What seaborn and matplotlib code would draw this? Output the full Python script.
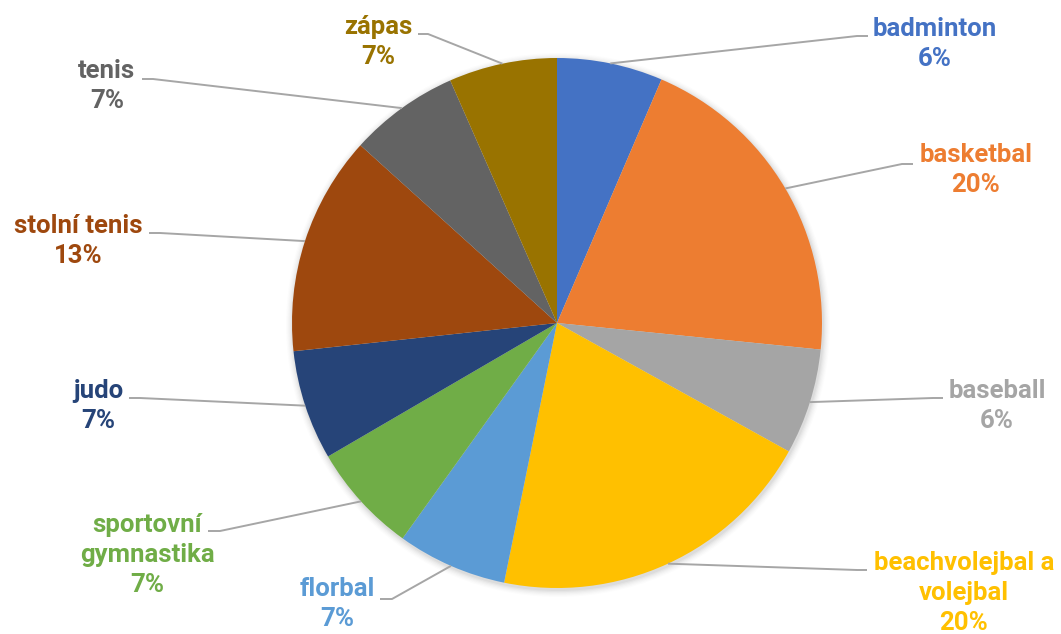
import matplotlib
matplotlib.use("Agg")
import math
import matplotlib.pyplot as plt
import matplotlib.patches as mpatches
import seaborn as sns

# ---- data ----
categories = ["badminton", "basketbal", "baseball", "beachvolejbal a volejbal",
              "florbal", "sportovní gymnastika", "judo", "stolní tenis", "tenis", "zápas"]
label_text = ["badminton", "basketbal", "baseball", "beachvolejbal a\nvolejbal",
              "florbal", "sportovní\ngymnastika", "judo", "stolní tenis", "tenis", "zápas"]
values = [6.45, 20.15, 6.45, 20.15, 6.7, 6.7, 6.7, 13.4, 6.7, 6.6]
colors = ["#4472C4", "#ED7D31", "#A5A5A5", "#FFC000", "#5B9BD5",
          "#70AD47", "#264478", "#9E480E", "#636363", "#997300"]

# ---- layout (pixel coordinates, y from top) ----
W, H = 1061, 634
CX, CY, R = 557, 323, 265
text_pos = [(935, 44), (976, 170), (997, 406), (964, 593), (337, 604),
            (147, 555), (98, 406), (78, 241), (107, 86), (378, 42)]
leader_elbow = [(857, 36), (902, 164), (933, 398), (857, 570), (392, 599),
                (220, 531), (140, 398), (160, 233), (153, 79), (428, 34)]
leader_end = [(868, 36), (913, 164), (943, 398), (867, 570), (380, 599),
              (208, 531), (129, 398), (149, 233), (142, 79), (418, 34)]

sns.set_theme(style="white")
plt.rcParams["font.family"] = ["Roboto", "DejaVu Sans"]
palette = sns.color_palette(colors)

fig = plt.figure(figsize=(W / 100, H / 100), dpi=100)
ax = fig.add_axes([0, 0, 1, 1])

def P(x, y):
    return x, H - y

# soft shadow behind the pie
for k, a in enumerate([0.035, 0.03, 0.025, 0.02, 0.015, 0.01]):
    ax.add_patch(mpatches.Circle(P(CX + 1, CY + 2), R + 1 + k * 1.2,
                                 facecolor="black", edgecolor="none", alpha=a, zorder=0))

wedges, _ = ax.pie(values, colors=palette, startangle=90, counterclock=False,
                   center=P(CX, CY), radius=R, wedgeprops=dict(linewidth=0))
for w in wedges:
    w.set_zorder(1)

total = sum(values)
for i, w in enumerate(wedges):
    th = math.radians((w.theta1 + w.theta2) / 2)
    sx, sy = w.center[0] + R * math.cos(th), w.center[1] + R * math.sin(th)
    ex, ey = P(*leader_elbow[i])
    fx, fy = P(*leader_end[i])
    ax.plot([sx, ex, fx], [sy, ey, fy], color="#A6A6A6", lw=1.4, zorder=2,
            solid_capstyle="butt")
    pct = round(values[i] / total * 100)
    tx, ty = P(*text_pos[i])
    ax.text(tx, ty, f"{label_text[i]}\n{pct}%", ha="center", va="center",
            multialignment="center", fontsize=18.5, fontweight="bold",
            color=colors[i], linespacing=1.33, zorder=3)

ax.set_xlim(0, W)
ax.set_ylim(0, H)
ax.set_aspect("equal")
ax.axis("off")
fig.savefig("out.png", dpi=100, facecolor="white")
